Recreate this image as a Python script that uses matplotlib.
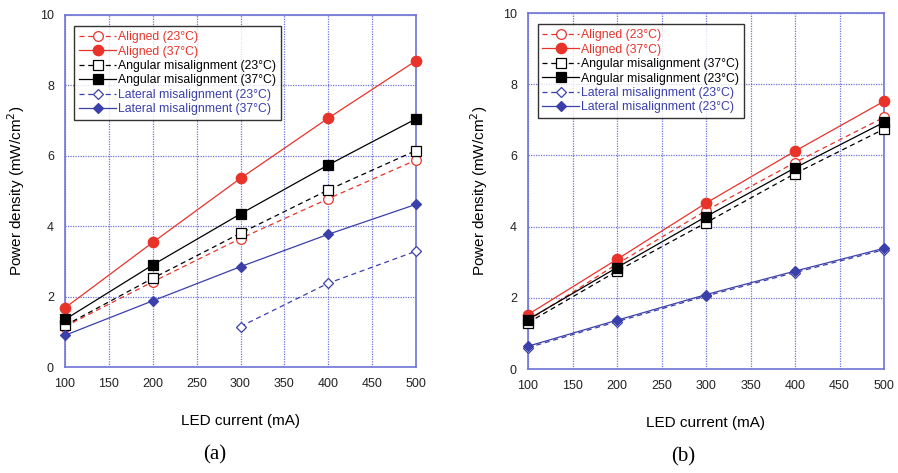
import matplotlib
matplotlib.use("Agg")
import matplotlib.pyplot as plt

current = [100, 200, 300, 400, 500]

# Panel (a)
a_aligned_23 = [1.15, 2.42, 3.65, 4.78, 5.88]
a_aligned_37 = [1.68, 3.54, 5.36, 7.07, 8.70]
a_angular_23 = [1.18, 2.52, 3.80, 5.03, 6.15]
a_angular_37 = [1.35, 2.90, 4.35, 5.74, 7.05]
a_lateral_23_x = [300, 400, 500]
a_lateral_23 = [1.15, 2.38, 3.29]
a_lateral_37 = [0.90, 1.88, 2.85, 3.77, 4.62]

# Panel (b)
b_aligned_23 = [1.36, 2.95, 4.45, 5.80, 7.07]
b_aligned_37 = [1.53, 3.08, 4.66, 6.12, 7.52]
b_angular_37 = [1.30, 2.75, 4.11, 5.49, 6.74]
b_angular_23 = [1.39, 2.85, 4.28, 5.65, 6.93]
b_lateral_23o = [0.60, 1.33, 2.05, 2.71, 3.35]
b_lateral_23f = [0.64, 1.37, 2.09, 2.75, 3.39]

labels_a = ["Aligned (23°C)", "Aligned (37°C)", "Angular misalignment (23°C)",
            "Angular misalignment (37°C)", "Lateral misalignment (23°C)",
            "Lateral misalignment (37°C)"]
labels_b = ["Aligned (23°C)", "Aligned (37°C)", "Angular misalignment (37°C)",
            "Angular misalignment (23°C)", "Lateral misalignment (23°C)",
            "Lateral misalignment (23°C)"]

xticks = [100, 150, 200, 250, 300, 350, 400, 450, 500]
yticks = [0, 2, 4, 6, 8, 10]

RED = "#e8332b"
BLACK = "#000000"
BLUE = "#3b3faa"
GRID = "#7074d6"

plt.rcParams['font.family'] = ['Liberation Sans', 'DejaVu Sans']

fig = plt.figure(figsize=(8.98, 4.73), dpi=100)
W, H = 898, 473

def make_ax(x0, x1, ytop, ybot):
    return fig.add_axes([x0 / W, 1 - ybot / H, (x1 - x0) / W, (ybot - ytop) / H])

ax1 = make_ax(65, 416, 15, 367)
ax2 = make_ax(528, 884, 13, 369)

def style(ax):
    ax.set_xlim(100, 500)
    ax.set_ylim(0, 10)
    ax.set_xticks(xticks)
    ax.set_yticks(yticks)
    ax.set_xticklabels([str(t) for t in xticks])
    ax.set_yticklabels([str(t) for t in yticks])
    ax.tick_params(length=0, labelsize=9, pad=8, colors="#222222")
    ax.grid(True, color=GRID, linestyle=(0, (1, 1)), linewidth=0.9)
    for s in ax.spines.values():
        s.set_color(GRID)
        s.set_linewidth(1.2)
    ax.set_xlabel("LED current (mA)", fontsize=11, labelpad=17)
    ax.set_ylabel("Power density (mW/cm$^2$)", fontsize=11, labelpad=9)

def series(ax, x, y, color, marker, filled, dashed, label, ms):
    ls = (0, (4, 3)) if dashed else "-"
    ax.plot(x, y, color=color, linestyle=ls, linewidth=0.9,
            marker=marker, markersize=ms,
            markerfacecolor=color if filled else "white",
            markeredgecolor=color, markeredgewidth=0.9, label=label,
            zorder=3, clip_on=False)

series(ax1, current, a_aligned_23, RED, "o", False, True, labels_a[0], 7)
series(ax1, current, a_aligned_37, RED, "o", True, False, labels_a[1], 7.5)
series(ax1, current, a_angular_23, BLACK, "s", False, True, labels_a[2], 7)
series(ax1, current, a_angular_37, BLACK, "s", True, False, labels_a[3], 7.5)
series(ax1, a_lateral_23_x, a_lateral_23, BLUE, "D", False, True, labels_a[4], 5.5)
series(ax1, current, a_lateral_37, BLUE, "D", True, False, labels_a[5], 5.5)

series(ax2, current, b_aligned_23, RED, "o", False, True, labels_b[0], 7)
series(ax2, current, b_aligned_37, RED, "o", True, False, labels_b[1], 7.5)
series(ax2, current, b_angular_37, BLACK, "s", False, True, labels_b[2], 7)
series(ax2, current, b_angular_23, BLACK, "s", True, False, labels_b[3], 7.5)
series(ax2, current, b_lateral_23o, BLUE, "D", False, True, labels_b[4], 5.5)
series(ax2, current, b_lateral_23f, BLUE, "D", True, False, labels_b[5], 5.5)

for ax in (ax1, ax2):
    style(ax)
    leg = ax.legend(loc="upper left", bbox_to_anchor=(0.02, 0.975), fontsize=8.8,
                    frameon=True, fancybox=False, edgecolor="black",
                    borderpad=0.4, labelspacing=0.2, handlelength=3.0,
                    handletextpad=0.15, borderaxespad=0.2)
    leg.get_frame().set_linewidth(1.0)
    for txt, line in zip(leg.get_texts(), leg.get_lines()):
        txt.set_color(line.get_color())

fig.text(215 / W, 1 - 455 / H, "(a)", fontsize=15, family="Liberation Serif",
         ha="center", va="center")
fig.text(683 / W, 1 - 457 / H, "(b)", fontsize=15, family="Liberation Serif",
         ha="center", va="center")

fig.savefig("out.png", dpi=100)
